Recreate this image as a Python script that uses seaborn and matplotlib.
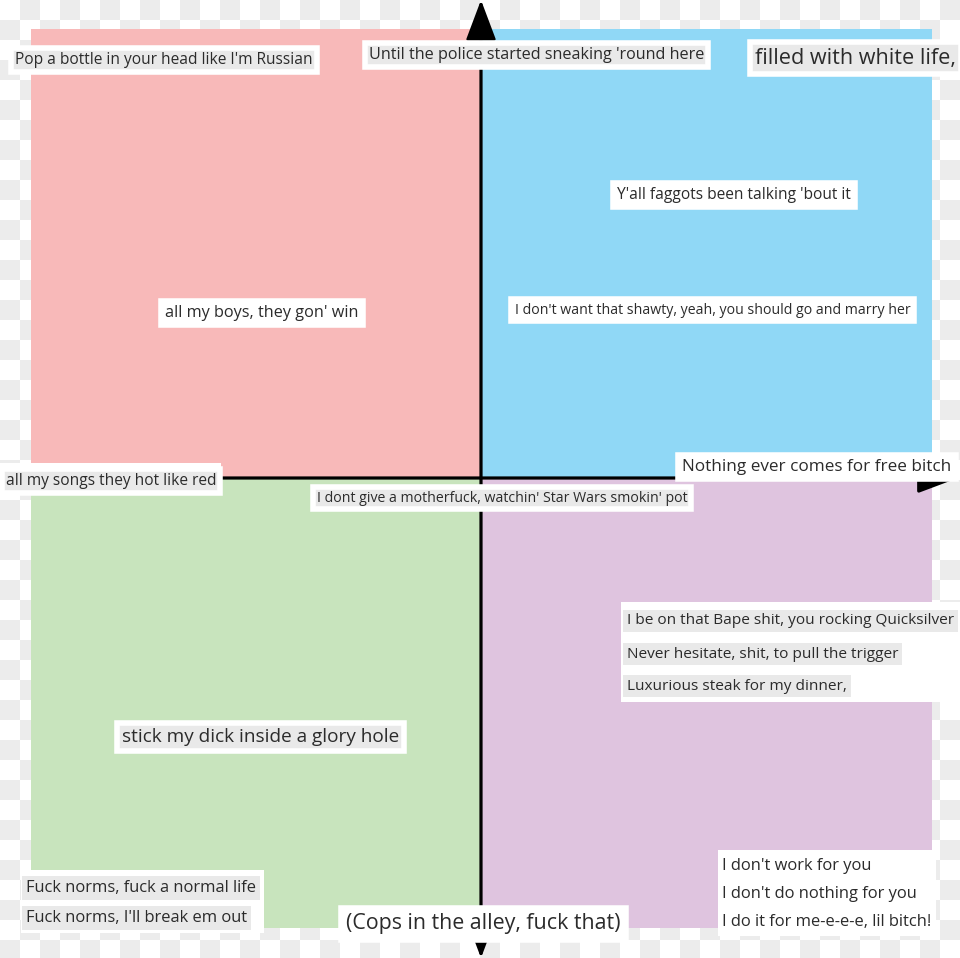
import numpy as np
import matplotlib.pyplot as plt
from matplotlib.colors import ListedColormap
from matplotlib.patches import Rectangle
import seaborn as sns

# quadrant layout (top-left, top-right / bottom-left, bottom-right)
quadrant_ids = [[0, 1], [2, 3]]
quadrant_colors = ["#f8b9b9", "#90d8f6", "#c8e4bd", "#dfc4df"]

# lyrics
top_left = ["Pop a bottle in your head like I'm Russian", "all my boys, they gon' win"]
top_mid = ["Until the police started sneaking 'round here"]
top_right = ["filled with white life,", "Y'all faggots been talking 'bout it",
             "I don't want that shawty, yeah, you should go and marry her"]
middle = ["all my songs they hot like red",
          "I dont give a motherfuck, watchin' Star Wars smokin' pot",
          "Nothing ever comes for free bitch"]
bape_lines = ["I be on that Bape shit, you rocking Quicksilver",
              "Never hesitate, shit, to pull the trigger",
              "Luxurious steak for my dinner,"]
glory = ["stick my dick inside a glory hole"]
norms_lines = ["Fuck norms, fuck a normal life", "Fuck norms, I'll break em out"]
cops = ["(Cops in the alley, fuck that)"]
me_lines = ["I don't work for you", "I don't do nothing for you",
            "I do it for me-e-e-e, lil bitch!"]

W, H = 960, 958
GRAY = "#e9e9e9"
INK = "#2b2b2b"

sns.set_style("white")
plt.rcParams["font.family"] = ["Open Sans", "DejaVu Sans"]

fig = plt.figure(figsize=(W / 100, H / 100), dpi=100)

# checkerboard "transparent" background
bg = fig.add_axes([0, 0, 1, 1])
ii, jj = np.indices((48, 48))
bg.imshow((ii + jj) % 2, cmap=ListedColormap(["white", "#ececec"]),
          extent=(0, 960, 960, 0), interpolation="nearest")
bg.set_xlim(0, W)
bg.set_ylim(H, 0)
bg.axis("off")

# quadrants
x0, x1, y0, y1 = 31, 932, 29, 928
hm = fig.add_axes([x0 / W, 1 - y1 / H, (x1 - x0) / W, (y1 - y0) / H])
sns.heatmap(np.array(quadrant_ids), cmap=ListedColormap(quadrant_colors),
            cbar=False, ax=hm, xticklabels=False, yticklabels=False)
hm.axis("off")

ax = fig.add_axes([0, 0, 1, 1])
ax.set_xlim(0, W)
ax.set_ylim(H, 0)
ax.patch.set_alpha(0)
ax.axis("off")

# axes with arrowheads
cx, cy = 481, 478
arrow = dict(arrowstyle="-|>,head_length=1.25,head_width=0.47", lw=2.3,
             color="black", mutation_scale=20, shrinkA=0, shrinkB=0)
for end in [(cx, 0), (cx, H), (0, cy), (W - 2, cy)]:
    ax.annotate("", xy=end, xytext=(cx, cy), arrowprops=arrow)


def label(x, y, s, size, face=GRAY, edge="white", lw=4):
    ax.text(x, y, s, fontsize=size, color=INK, ha="left", va="center", zorder=5,
            bbox=dict(boxstyle="square,pad=0.25", fc=face, ec=edge, lw=lw))


def group_bg(xa, ya, xb, yb):
    ax.add_patch(Rectangle((xa, ya), xb - xa, yb - ya, fc="white", ec="none",
                           zorder=4))


label(15, 60, top_left[0], 11.2)
label(369, 55, top_mid[0], 11.6)
label(755, 58, top_right[0], 15.6)
label(617, 195, top_right[1], 11.2, face="white")
label(515, 310, top_right[2], 10.2, face="white")
label(165, 313, top_left[1], 11.7, face="white")
group_bg(0, 463, 221, 494)
label(6, 481, middle[0], 11.2)
label(317, 498, middle[1], 10.2)
label(682, 467, middle[2], 12.3, face="white")
label(122, 737, glory[0], 13.7)
label(346, 924, cops[0], 15.4, face="white")

group_bg(621, 602, 960, 702)
for s, y in zip(bape_lines, [621, 654, 686]):
    label(627, y, s, 11.1, edge="none", lw=0)

group_bg(21, 870, 264, 933)
for s, y in zip(norms_lines, [888, 918]):
    label(26, y, s, 11.9, edge="none", lw=0)

group_bg(718, 850, 936, 936)
for s, y in zip(me_lines, [866, 894, 922]):
    label(722, y, s, 11.9, face="white", edge="none", lw=0)

fig.savefig("out.png", dpi=100)
